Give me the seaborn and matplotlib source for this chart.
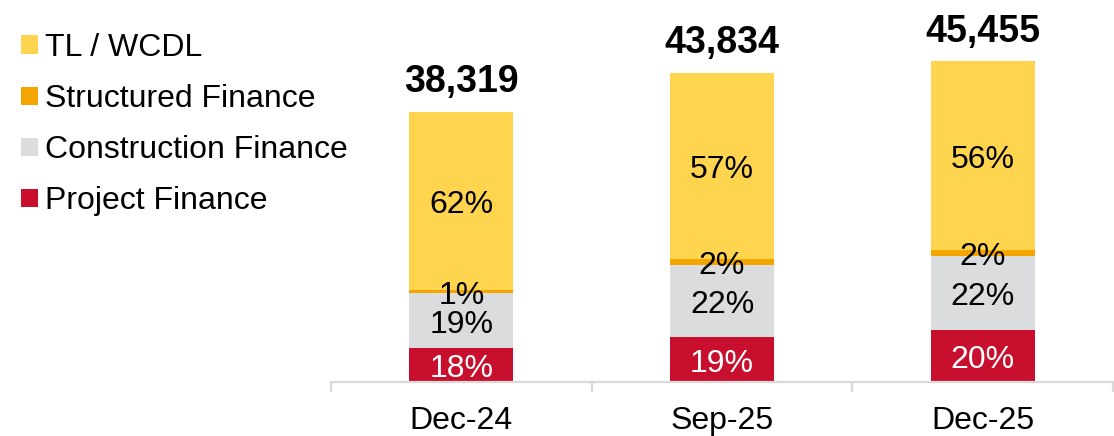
import matplotlib
matplotlib.use("Agg")
import matplotlib.pyplot as plt
from matplotlib.patches import Patch
from matplotlib.ticker import FixedLocator
import numpy as np
import pandas as pd
import seaborn as sns

# periods and segment amounts
PERIODS = ["Dec-24", "Sep-25", "Dec-25"]
TOTALS = [38319, 43834, 45455]
PROJECT = [4840, 6375, 7405]
CONSTRUCTION = [7740, 10260, 10500]
STRUCTURED = [470, 750, 850]
TL_WCDL = [25269, 26449, 26700]

# labels printed in the chart
PROJECT_PCT = ["18%", "19%", "20%"]
CONSTRUCTION_PCT = ["19%", "22%", "22%"]
STRUCTURED_PCT = ["1%", "2%", "2%"]
TL_PCT = ["62%", "57%", "56%"]

SEGMENTS = ["Project Finance", "Construction Finance", "Structured Finance", "TL / WCDL"]
COLORS = {
    "Project Finance": "#C8102E",
    "Construction Finance": "#DBDCDE",
    "Structured Finance": "#F5A500",
    "TL / WCDL": "#FFD550",
}

sns.set_theme(style="white")
plt.rcParams["font.family"] = ["Liberation Sans", "DejaVu Sans"]
plt.rcParams["text.color"] = "black"
plt.rcParams["xtick.color"] = "black"

df = pd.DataFrame({
    "period": PERIODS,
    "Project Finance": PROJECT,
    "Construction Finance": CONSTRUCTION,
    "Structured Finance": STRUCTURED,
    "TL / WCDL": TL_WCDL,
})
cum = df[SEGMENTS].cumsum(axis=1)

fig = plt.figure(figsize=(11.14, 4.36), dpi=100)
ax = fig.add_axes([331 / 1114, 1 - 382 / 436, 782 / 1114, 382 / 436])

# overlapping cumulative bars, tallest first
for seg in reversed(SEGMENTS):
    sns.barplot(x=df["period"], y=cum[seg], color=COLORS[seg], width=0.4,
                saturation=1, ax=ax, linewidth=0)

labels = {
    "Project Finance": PROJECT_PCT,
    "Construction Finance": CONSTRUCTION_PCT,
    "Structured Finance": STRUCTURED_PCT,
    "TL / WCDL": TL_PCT,
}
for i in range(len(PERIODS)):
    bottom = 0
    for seg in SEGMENTS:
        val = df[seg][i]
        txt_color = "white" if seg == "Project Finance" else "black"
        ax.annotate(labels[seg][i], (i, bottom + val / 2), xytext=(0, -3.2),
                    textcoords="offset points", ha="center", va="center",
                    fontsize=23, color=txt_color)
        bottom += val
    ax.annotate(f"{TOTALS[i]:,}", (i, cum["TL / WCDL"][i]), xytext=(0, 14),
                textcoords="offset points", ha="center", va="baseline",
                fontsize=27, fontweight="bold", color="black")

ax.set_xlim(-0.5, 2.5)
ax.set_ylim(0, 382 * 141.7)
ax.set_xlabel("")
ax.set_ylabel("")
ax.set_yticks([])
for s in ["top", "right", "left"]:
    ax.spines[s].set_visible(False)
ax.spines["bottom"].set_color("#D9D9D9")
ax.spines["bottom"].set_linewidth(1.6)
ax.tick_params(axis="x", which="major", length=0, labelsize=23, pad=17,
               labelcolor="black")
ax.xaxis.set_minor_locator(FixedLocator([-0.5, 0.5, 1.5, 2.5]))
ax.tick_params(axis="x", which="minor", length=7, width=1.6, color="#D9D9D9", bottom=True)

handles = [Patch(facecolor=COLORS[s], edgecolor="none", label=s) for s in reversed(SEGMENTS)]
fig.legend(handles=handles, loc="upper left", bbox_to_anchor=(0.0074, 0.9534),
           frameon=False, fontsize=23, handlelength=0.52, handleheight=0.52,
           handletextpad=0.23, labelspacing=0.66, borderaxespad=0,
           labelcolor="black")

fig.savefig("out.png", dpi=100)
